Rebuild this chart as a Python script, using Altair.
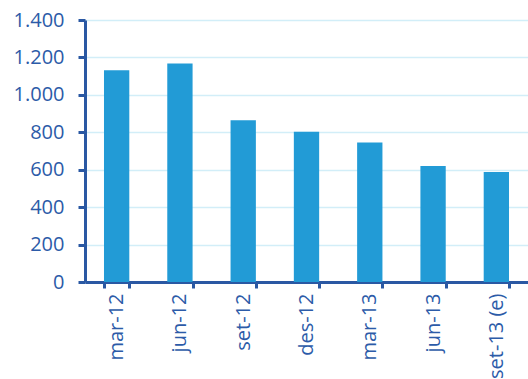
import altair as alt
import pandas as pd

categories = ["mar-12", "jun-12", "set-12", "des-12", "mar-13", "jun-13", "set-13 (e)"]
values = [1132, 1168, 864, 803, 746, 620, 588]
y_ticks = [0, 200, 400, 600, 800, 1000, 1200, 1400]

df = pd.DataFrame({"cat": categories, "val": values})

axis_color = "#2a58a3"
label_color = "#2c5ba8"

chart = alt.Chart(df).mark_bar(color="#229bd6").encode(
    x=alt.X("cat:N", sort=categories, title=None,
            scale=alt.Scale(paddingInner=0.6, paddingOuter=0.3),
            axis=alt.Axis(labelAngle=-90, labelFont="Open Sans", labelFontSize=20,
                          labelFontWeight=500,
                          labelColor=label_color, domainColor=axis_color, domainWidth=3,
                          tickColor=axis_color, tickWidth=3, tickSize=6, tickBand="extent",
                          labelPadding=5, labelAlign="right", labelBaseline="middle")),
    y=alt.Y("val:Q", title=None,
            scale=alt.Scale(domain=[0, 1400], nice=False),
            axis=alt.Axis(values=y_ticks, format=",.0f", labelFont="Open Sans", labelFontSize=20,
                          labelFontWeight=500,
                          labelColor=label_color, domainColor=axis_color, domainWidth=3,
                          tickColor=axis_color, tickWidth=3, tickSize=7, labelPadding=14,
                          gridColor="#d2eef8", gridWidth=1.5)),
).properties(
    width=443, height=262,
    padding={"left": 85, "top": 20, "right": 0, "bottom": 97},
    autosize=alt.AutoSizeParams(type="none"),
).configure_view(stroke=None).configure(
    locale={"number": {"decimal": ",", "thousands": ".", "grouping": [3], "currency": ["", "€"]}}
)

chart.save("out.html", embed_options={"renderer": "svg", "actions": False})
